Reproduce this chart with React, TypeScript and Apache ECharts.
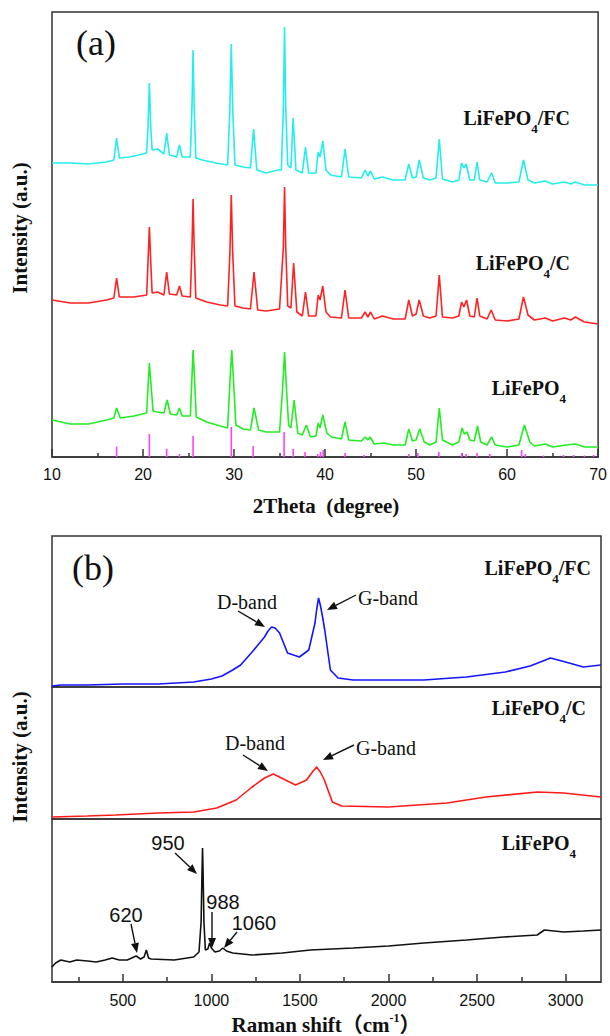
import React, { useEffect, useRef } from 'react';
import * as echarts from 'echarts';

// ---------- XRD (a): [2θ, intensity (a.u., offset)] ----------
const xrdFC: [number, number][] = [
  [10,294],[12,294],[14,293],[16,295],[16.8,297],[17.1,319],[17.4,299],[18.5,300],[19.5,302],[20.4,304],[20.55,330],[20.7,374],[20.85,330],[21.0,307],[21.6,308],[22.3,303],[22.6,324],[22.9,302],[23.7,300],[24.0,312],[24.3,300],[25.2,300],[25.38,350],[25.5,407],[25.62,350],[25.8,299],[26.5,297],[28,294],[29.3,292],[29.55,350],[29.7,413],[29.85,350],[30.1,292],[31,290],[31.8,289],[32.15,328],[32.5,287],[33.5,284],[34.8,287],[35.2,287],[35.42,350],[35.55,430],[35.68,350],[35.9,292],[36.25,289],[36.5,339],[36.8,287],[37.5,284],[37.85,310],[38.2,284],[39.0,284],[39.25,305],[39.45,300],[39.75,316],[40.1,287],[40.6,282],[41.8,280],[42.2,308],[42.6,280],[44.0,279],[44.4,287],[44.7,281],[45.0,286],[45.4,278],[46.3,280],[47.5,277],[48.8,277],[49.2,293],[49.6,279],[50.0,280],[50.35,297],[50.8,279],[51.5,277],[52.2,279],[52.55,318],[52.9,278],[54.0,275],[54.7,277],[55.0,294],[55.25,289],[55.5,293],[55.9,277],[56.4,277],[56.7,295],[57.0,277],[57.8,275],[58.3,284],[58.7,274],[60,274],[61.3,275],[61.8,297],[62.3,277],[63,274],[64.2,276],[65,273],[66.3,275],[67.0,273],[67.5,275],[68.5,272],[70,272]
];
const xrdC: [number, number][] = [
  [10,157],[12,154],[14,154],[16,157],[16.8,159],[17.1,179],[17.4,160],[19.0,160],[20.4,162],[20.55,195],[20.7,230],[20.85,195],[21.0,164],[21.6,165],[22.3,162],[22.6,185],[22.9,163],[23.7,162],[24.0,171],[24.3,161],[25.2,160],[25.38,210],[25.5,258],[25.62,210],[25.8,159],[27,155],[28.5,152],[29.3,151],[29.55,205],[29.7,262],[29.85,205],[30.1,151],[31.0,149],[31.8,148],[32.2,185],[32.6,147],[33.5,146],[35.0,148],[35.42,210],[35.55,270],[35.68,210],[35.9,151],[36.25,149],[36.55,194],[36.9,145],[37.5,141],[37.85,165],[38.2,141],[39.0,141],[39.25,162],[39.45,157],[39.75,171],[40.1,145],[40.6,140],[41.8,139],[42.2,167],[42.6,139],[44.0,139],[44.4,145],[44.7,140],[45.0,145],[45.4,138],[46.3,141],[47.5,138],[48.8,138],[49.2,157],[49.6,141],[50.0,143],[50.35,157],[50.8,141],[51.5,139],[52.2,141],[52.55,182],[52.9,140],[54.0,139],[54.7,141],[55.0,155],[55.25,150],[55.55,157],[55.9,141],[56.4,140],[56.7,159],[57.0,141],[57.8,138],[58.25,147],[58.7,137],[60,136],[61.3,138],[61.8,160],[62.3,142],[63,137],[64.2,139],[65,136],[66.3,139],[67.0,137],[67.5,140],[68.5,135],[70,133]
];
const xrdBare: [number, number][] = [
  [10,37],[12,33],[14,33],[16,37],[16.8,39],[17.1,49],[17.5,39],[19.0,41],[20.4,44],[20.55,70],[20.7,94],[20.9,70],[21.1,46],[21.6,45],[22.3,44],[22.65,57],[23.0,43],[23.7,42],[24.0,49],[24.3,41],[25.2,41],[25.38,80],[25.5,107],[25.65,80],[25.85,40],[27,35],[28.5,31],[29.3,29],[29.55,75],[29.75,107],[29.95,75],[30.2,32],[31.0,28],[31.8,27],[32.2,49],[32.7,27],[33.5,25],[35.0,25],[35.35,70],[35.55,105],[35.75,70],[36.0,32],[36.25,29],[36.6,57],[37.0,24],[37.5,22],[37.95,32],[38.4,20],[39.0,21],[39.25,34],[39.45,29],[39.75,42],[40.2,24],[40.7,20],[41.8,18],[42.2,35],[42.6,17],[44.0,16],[44.4,20],[44.7,17],[44.95,20],[45.4,13],[46.5,14],[47.5,12],[48.8,12],[49.2,28],[49.6,16],[50.0,17],[50.4,28],[50.9,15],[51.5,12],[52.2,15],[52.55,49],[52.9,17],[54.0,12],[54.7,15],[55.05,29],[55.3,23],[55.6,25],[55.9,17],[56.4,16],[56.75,31],[57.1,15],[57.8,12],[58.3,20],[58.7,12],[60,10],[61.3,12],[61.9,32],[62.5,15],[63,11],[64.2,13],[65,10],[66.5,12],[67.5,13],[68.5,10],[70,10]
];
// reference pattern (stick lines)
const refPeaks = [17.1,20.7,22.6,24.0,25.5,29.7,32.1,35.5,36.5,37.8,39.2,39.5,39.8,42.2,44.3,49.2,50.2,52.5,55.0,55.5,56.7,58.1,61.6,62.0,64.0,66.2,67.3,68.5,69.5];
const refHeights = [10.5,23,8,3,21,30,11,25,8,5,3,5,7,4,2,3,4,5,4,3,4,3,7,3,1.5,2,2,1.5,2];
const xrdTickLabels = [10,20,30,40,50,60,70];

// ---------- Raman (b): [shift cm-1, intensity (a.u., offset)] ----------
const ramanFC: [number, number][] = [
  [100,1],[150,2],[300,2],[500,3],[700,3],[900,5],[1000,8],[1060,11],[1120,17],[1165,22],[1230,35],[1300,50],[1320,56],[1340,60],[1360,59],[1385,54],[1430,34],[1497,30],[1550,37],[1585,64],[1595,78],[1605,89],[1615,82],[1628,70],[1640,57],[1672,17],[1715,9],[1800,7],[2000,7],[2200,7],[2440,10],[2660,15],[2800,21],[2915,29],[3000,25],[3100,20],[3200,22]
];
const ramanC: [number, number][] = [
  [100,2],[300,3],[460,4],[700,6],[900,7],[1030,11],[1140,19],[1230,32],[1300,41],[1350,45],[1407,40],[1475,34],[1537,39],[1575,48],[1594,52],[1615,47],[1638,39],[1683,17],[1735,13],[2000,12],[2330,16],[2550,22],[2840,27],[2990,26],[3200,22]
];
const ramanBare: [number, number][] = [
  [100,15],[120,19],[150,22],[200,20],[240,22],[300,21],[350,20],[400,22],[440,24],[480,22],[525,22],[575,26],[600,23],[620,25],[633,32],[645,24],[660,23],[790,22],[900,25],[930,30],[942,60],[947,110],[950,134],[953,110],[958,60],[966,32],[980,33],[990,39],[1000,34],[1020,30],[1045,31],[1065,34],[1085,31],[1120,29],[1230,27],[1400,29],[1560,32],[1800,34],[2000,36],[2200,39],[2440,42],[2650,45],[2840,47],[2880,52],[2990,50],[3100,51],[3200,52]
];
const ramanMajor = [500,1000,1500,2000,2500,3000];
const ramanMinor = [250,750,1250,1750,2250,2750];

// ---------- styling helpers ----------
const serif = '"Liberation Serif", "Times New Roman", serif';
const serifCJK = '"Liberation Serif", "Noto Sans CJK SC", serif';
const sans = '"Liberation Sans", Arial, sans-serif';
const frame = '#333';
const ink = '#111';

function arrow(x1: number, y1: number, x2: number, y2: number) {
  const dx = x2 - x1, dy = y2 - y1;
  const L = Math.hypot(dx, dy);
  const ux = dx / L, uy = dy / L;
  const hl = 10, hw = 4;
  const bx = x2 - ux * hl, by = y2 - uy * hl;
  return [
    { type: 'line', shape: { x1, y1, x2: bx, y2: by }, style: { stroke: ink, lineWidth: 1.4 }, silent: true },
    { type: 'polygon', shape: { points: [[x2, y2], [bx - uy * hw, by + ux * hw], [bx + uy * hw, by - ux * hw]] }, style: { fill: ink }, silent: true },
  ];
}

function sampleLabel(right: number, y: number, pre: string, post: string) {
  return {
    type: 'text', x: right, y, silent: true,
    style: {
      text: `{m|${pre}}{s|4}{m|${post}}`,
      textAlign: 'right', textVerticalAlign: 'middle',
      rich: {
        m: { fontSize: 20, fontWeight: 'bold', fontFamily: serif, fill: ink, color: ink },
        s: { fontSize: 13, fontWeight: 'bold', fontFamily: serif, fill: ink, color: ink, padding: [20, 0, 0, 0] },
      },
    },
  };
}

function plainText(x: number, y: number, text: string, font: string, align = 'center') {
  return {
    type: 'text', x, y, silent: true,
    style: { text, font, fill: ink, textAlign: align, textVerticalAlign: 'middle' },
  };
}

const lineSeries = (data: [number, number][], color: string, idx: number) => ({
  type: 'line', data, xAxisIndex: idx, yAxisIndex: idx, showSymbol: false, symbol: 'none',
  lineStyle: { color, width: 1.6 }, silent: true, z: 3,
});

const axisLineStyle = { color: frame, width: 1.5 };

export default function App() {
  const ref = useRef<HTMLDivElement>(null);
  useEffect(() => {
    const chart = echarts.init(ref.current!, null, { renderer: 'svg' });
    const gridBase = { show: true, borderColor: frame, borderWidth: 1.5, backgroundColor: 'transparent' };
    const option: any = {
      animation: false,
      textStyle: { fontFamily: sans },
      grid: [
        { ...gridBase, left: 52, top: 12, width: 548, height: 445 },
        { ...gridBase, left: 52, top: 536, width: 549, height: 151 },
        { ...gridBase, left: 52, top: 687, width: 549, height: 132 },
        { ...gridBase, left: 52, top: 819, width: 549, height: 163 },
      ],
      xAxis: [
        {
          gridIndex: 0, type: 'value', min: 10, max: 70, interval: 10,
          axisLine: { show: true, lineStyle: axisLineStyle },
          axisTick: { show: true, inside: true, length: 8, lineStyle: axisLineStyle },
          minorTick: { show: true, splitNumber: 2, length: 4, lineStyle: axisLineStyle },
          axisLabel: { fontSize: 16, fontFamily: sans, color: ink, margin: 9, formatter: (v: number) => (xrdTickLabels.includes(v) ? String(v) : '') },
          splitLine: { show: false },
        },
        { gridIndex: 1, type: 'value', min: 100, max: 3200, show: false },
        { gridIndex: 2, type: 'value', min: 100, max: 3200, show: false },
        {
          gridIndex: 3, type: 'value', min: 100, max: 3200, position: 'bottom',
          axisLine: { show: true, lineStyle: axisLineStyle },
          axisTick: { show: true, inside: true, length: 8, lineStyle: axisLineStyle, customValues: ramanMajor },
          axisLabel: { fontSize: 16, fontFamily: sans, color: ink, margin: 10, customValues: ramanMajor, formatter: (v: number) => String(v) },
          splitLine: { show: false },
        },
        {
          gridIndex: 3, type: 'value', min: 100, max: 3200, position: 'bottom',
          axisLine: { show: false },
          axisTick: { show: true, inside: true, length: 5, lineStyle: axisLineStyle, customValues: ramanMinor },
          axisLabel: { show: false },
          splitLine: { show: false },
        },
      ],
      yAxis: [
        { gridIndex: 0, type: 'value', min: 0, max: 445, show: false },
        { gridIndex: 1, type: 'value', min: 0, max: 151, show: false },
        { gridIndex: 2, type: 'value', min: 0, max: 132, show: false },
        { gridIndex: 3, type: 'value', min: 0, max: 163, show: false },
      ],
      series: [
        {
          type: 'bar', xAxisIndex: 0, yAxisIndex: 0, barWidth: 1.6, silent: true, z: 2,
          data: refPeaks.map((p, i) => [p, refHeights[i]]),
          itemStyle: { color: '#ff40ff' },
        },
        lineSeries(xrdFC, '#22eeee', 0),
        lineSeries(xrdC, '#ff2222', 0),
        lineSeries(xrdBare, '#22ee22', 0),
        lineSeries(ramanFC, '#1414ff', 1),
        lineSeries(ramanC, '#ff1a1a', 2),
        lineSeries(ramanBare, '#111111', 3),
      ],
      graphic: {
        elements: [
          plainText(76, 43, '(a)', `36px ${serif}`, 'left'),
          plainText(72, 568, '(b)', `36px ${serif}`, 'left'),
          sampleLabel(570, 118, 'LiFePO', '/FC'),
          sampleLabel(570, 263, 'LiFePO', '/C'),
          sampleLabel(566, 388, 'LiFePO', ''),
          sampleLabel(591, 568, 'LiFePO', '/FC'),
          sampleLabel(586, 708, 'LiFePO', '/C'),
          sampleLabel(576, 843, 'LiFePO', ''),
          // axis titles
          plainText(326, 506, '2Theta  (degree)', `bold 21px ${serif}`),
          { type: 'text', x: 20, y: 228, rotation: Math.PI / 2, silent: true,
            style: { text: 'Intensity (a.u.)', font: `bold 21px ${serif}`, fill: ink, textAlign: 'center', textVerticalAlign: 'middle' } },
          { type: 'text', x: 20, y: 757, rotation: Math.PI / 2, silent: true,
            style: { text: 'Intensity (a.u.)', font: `bold 21px ${serif}`, fill: ink, textAlign: 'center', textVerticalAlign: 'middle' } },
          {
            type: 'text', x: 326, y: 1025, silent: true,
            style: {
              text: '{m|Raman shift（cm}{p|-1}{m|）}', textAlign: 'center', textVerticalAlign: 'middle',
              rich: {
                m: { fontSize: 21, fontWeight: 'bold', fontFamily: serifCJK, fill: ink, color: ink },
                p: { fontSize: 12, fontWeight: 'bold', fontFamily: serif, fill: ink, color: ink, padding: [0, 0, 14, 0] },
              },
            },
          },
          // band annotations
          plainText(247, 602, 'D-band', `20px ${serif}`),
          ...arrow(238, 611, 265, 627),
          plainText(388, 598, 'G-band', `20px ${serif}`),
          ...arrow(356, 595, 327, 610),
          plainText(255, 743, 'D-band', `20px ${serif}`),
          ...arrow(243, 755, 268, 771),
          plainText(386, 748, 'G-band', `20px ${serif}`),
          ...arrow(354, 745, 323, 760),
          // LiFePO4 Raman peak annotations
          plainText(168, 843, '950', `20px ${sans}`),
          ...arrow(175, 853, 197, 874),
          plainText(126, 915, '620', `20px ${sans}`),
          ...arrow(131, 924, 137, 953),
          plainText(223, 902, '988', `20px ${sans}`),
          ...arrow(212, 912, 212, 948),
          plainText(254, 923, '1060', `20px ${sans}`),
          ...arrow(237, 932, 224, 948),
        ],
      },
    };
    chart.setOption(option);
    return () => chart.dispose();
  }, []);
  return <div ref={ref} style={{ position: 'absolute', left: 0, top: 0, width: 610, height: 1036 }} />;
}
